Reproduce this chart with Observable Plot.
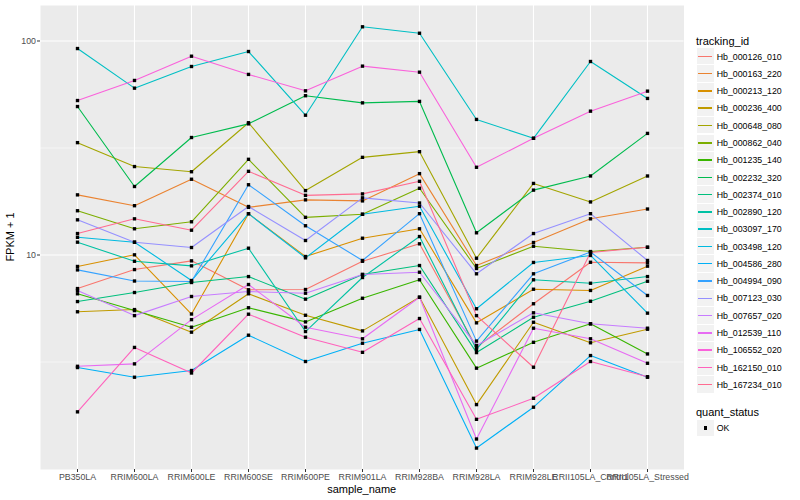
<!DOCTYPE html>
<html>
<head>
<meta charset="utf-8">
<script src="https://cdn.jsdelivr.net/npm/d3@7"></script>
<script src="https://cdn.jsdelivr.net/npm/@observablehq/plot@0.6"></script>
<style>
  body { margin: 0; background: #fff; font-family: "Liberation Sans", Arial, sans-serif; }
  #wrap { position: relative; width: 800px; height: 500px; overflow: hidden; }
  #wrap svg { position: absolute; left: 0; top: 0; }
  .lg { position: absolute; white-space: nowrap; color: #000; }
</style>
</head>
<body>
<div id="wrap"></div>
<script>
// ---- data ----
const samples = ["PB350LA", "RRIM600LA", "RRIM600LE", "RRIM600SE", "RRIM600PE", "RRIM901LA",
  "RRIM928BA", "RRIM928LA", "RRIM928LE", "RRII105LA_Control", "RRII105LA_Stressed"];

const ids = ["Hb_000126_010", "Hb_000163_220", "Hb_000213_120", "Hb_000236_400", "Hb_000648_080",
  "Hb_000862_040", "Hb_001235_140", "Hb_002232_320", "Hb_002374_010", "Hb_002890_120",
  "Hb_003097_170", "Hb_003498_120", "Hb_004586_280", "Hb_004994_090", "Hb_007123_030",
  "Hb_007657_020", "Hb_012539_110", "Hb_106552_020", "Hb_162150_010", "Hb_167234_010"];

const colors = ["#F8766D", "#EA8331", "#D89000", "#C09B00", "#A3A500", "#7CAE00", "#39B600", "#00BB4E",
  "#00BF7D", "#00C1A3", "#00BFC4", "#00BAE0", "#00B0F6", "#35A2FF", "#9590FF", "#C77CFF",
  "#E76BF3", "#FA62DB", "#FF62BC", "#FF6C91"];

// FPKM + 1 per sample, in the order of `samples`
const hb_000126_010 = [6.97, 8.55, 9.39, 6.88, 6.9, 9.35, 11.28, 3.7, 5.92, 9.25, 9.19];
const hb_000163_220 = [19.1, 17.0, 22.6, 16.7, 18.1, 17.9, 24.0, 8.93, 11.44, 14.76, 16.4];
const hb_000213_120 = [8.84, 10.02, 5.3, 15.6, 9.84, 11.98, 13.26, 4.82, 6.92, 6.83, 8.87];
const hb_000236_400 = [5.43, 5.56, 4.36, 6.59, 5.23, 4.42, 6.35, 2.0, 4.85, 3.89, 4.5];
const hb_000648_080 = [33.5, 25.9, 24.5, 41.5, 20.0, 28.6, 30.4, 9.66, 21.6, 17.7, 23.4];
const hb_000862_040 = [16.1, 13.26, 14.3, 28.0, 15.0, 15.5, 20.5, 8.65, 10.99, 10.38, 10.87];
const hb_001235_140 = [6.59, 5.5, 4.6, 5.67, 4.87, 6.28, 7.66, 2.96, 3.91, 4.77, 3.45];
const hb_002232_320 = [49.4, 20.9, 35.4, 41.0, 55.5, 51.4, 52.2, 12.7, 20.1, 23.4, 37.0];
const hb_002374_010 = [6.06, 6.68, 7.44, 7.93, 6.22, 8.11, 8.93, 3.5, 5.12, 6.08, 7.54];
const hb_002890_120 = [11.48, 9.35, 8.9, 10.76, 4.39, 7.85, 12.2, 3.62, 7.66, 7.38, 7.93];
const hb_003097_170 = [92.2, 60.2, 76.0, 89.3, 45.0, 116.5, 108.7, 43.0, 35.1, 80.2, 53.9];
const hb_003498_120 = [12.1, 11.48, 7.6, 15.6, 9.7, 15.5, 16.9, 5.61, 9.23, 9.95, 5.35];
const hb_004586_280 = [2.98, 2.685, 2.886, 4.22, 3.18, 3.87, 4.49, 1.253, 1.945, 3.39, 2.685];
const hb_004994_090 = [8.52, 7.56, 7.52, 21.3, 13.7, 9.43, 15.6, 3.96, 8.17, 10.33, 6.47];
const hb_007123_030 = [14.6, 11.48, 10.84, 16.85, 11.69, 18.5, 17.5, 8.17, 12.6, 15.6, 9.43];
const hb_007657_020 = [6.83, 5.21, 6.4, 6.75, 6.63, 8.11, 8.31, 3.78, 5.37, 4.77, 4.55];
const hb_012539_110 = [3.02, 3.1, 4.99, 7.28, 4.6, 4.06, 6.35, 1.381, 4.55, 4.06, 3.12];
const hb_106552_020 = [52.7, 65.4, 84.9, 69.8, 58.5, 76.3, 71.5, 25.7, 35.1, 47.0, 58.3];
const hb_162150_010 = [1.85, 3.7, 2.81, 5.29, 4.13, 3.51, 5.05, 1.707, 2.14, 3.18, 2.7];
const hb_167234_010 = [12.6, 14.76, 13.06, 24.6, 19.0, 19.3, 22.1, 5.21, 2.99, 10.27, 10.87];

const seriesValues = [hb_000126_010, hb_000163_220, hb_000213_120, hb_000236_400, hb_000648_080,
  hb_000862_040, hb_001235_140, hb_002232_320, hb_002374_010, hb_002890_120, hb_003097_170,
  hb_003498_120, hb_004586_280, hb_004994_090, hb_007123_030, hb_007657_020, hb_012539_110,
  hb_106552_020, hb_162150_010, hb_167234_010];

const quantStatus = ["OK"];
const majorBreaks = [10, 100];
const minorBreaks = [Math.sqrt(10), Math.sqrt(1000)];

// ---- build table ----
const data = ids.flatMap((id, i) => samples.map((s, j) => ({
  id, sample: s, value: seriesValues[i][j], status: quantStatus[0]
})));

const font = "'Liberation Sans', Arial, sans-serif";

const chart = Plot.plot({
  width: 800,
  height: 500,
  marginLeft: 40,
  marginRight: 116.5,
  marginTop: 5,
  marginBottom: 31,
  style: { fontFamily: font, fontSize: "8.8px", background: "#fff", color: "#000", overflow: "visible" },
  x: { type: "point", domain: samples, padding: 0.6, label: null },
  y: { type: "log", domain: [0.995, 146.5], label: null },
  color: { domain: ids, range: colors },
  marks: [
    Plot.frame({ fill: "#EBEBEB", stroke: "none" }),
    Plot.ruleY(minorBreaks, { y: d => d, stroke: "#fff", strokeWidth: 0.55 }),
    Plot.ruleY(majorBreaks, { y: d => d, stroke: "#fff", strokeWidth: 1.1 }),
    Plot.ruleX(samples, { x: d => d, stroke: "#fff", strokeWidth: 1.1 }),
    Plot.line(data, { x: "sample", y: "value", z: "id", stroke: "id", strokeWidth: 1.1 }),
    Plot.dot(data, { x: "sample", y: "value", symbol: "square", r: 1.9, fill: "#000", stroke: "none" }),
    Plot.axisY(majorBreaks, { tickSize: 3, tickPadding: 1.5, tickFormat: d => String(d),
      color: "#4D4D4D", stroke: "#333", label: null, fontSize: 8.8 }),
    Plot.axisX(samples, { tickSize: 3, tickPadding: 1, color: "#4D4D4D", stroke: "#333",
      label: null, fontSize: 8.8 })
  ]
});

const wrap = document.getElementById("wrap");
wrap.appendChild(chart);

// axis titles
const svg = d3.select(chart);
svg.append("text")
  .attr("x", 361.7).attr("y", 493)
  .attr("text-anchor", "middle")
  .attr("font-family", font).attr("font-size", 11).attr("fill", "#000")
  .text("sample_name");
svg.append("text")
  .attr("transform", "translate(14,237) rotate(-90)")
  .attr("text-anchor", "middle")
  .attr("font-family", font).attr("font-size", 11).attr("fill", "#000")
  .text("FPKM + 1");

// ---- legend (HTML) ----
function addDiv(style, text) {
  const d = document.createElement("div");
  d.className = "lg";
  Object.assign(d.style, style);
  if (text != null) d.textContent = text;
  wrap.appendChild(d);
  return d;
}
const keyStep = 17.28;
const firstKeyTop = 48.1;
addDiv({ left: "696px", top: "33.5px", fontSize: "11px", lineHeight: "14px" }, "tracking_id");
ids.forEach((id, i) => {
  const top = firstKeyTop + i * keyStep;
  const box = addDiv({ left: "696.5px", top: top + "px", width: "17px", height: (keyStep - 1) + "px",
    background: "#F2F2F2" });
  const ln = document.createElement("div");
  Object.assign(ln.style, { position: "absolute", left: "1.5px", width: "14px", top: "7.5px",
    height: "1.5px", background: colors[i] });
  box.appendChild(ln);
  addDiv({ left: "716.7px", top: (top + keyStep / 2 - 6.2) + "px", fontSize: "8.8px", lineHeight: "12px" }, id);
});
addDiv({ left: "696px", top: "405px", fontSize: "11px", lineHeight: "14px" }, "quant_status");
quantStatus.forEach((q, i) => {
  const top = 420 + i * keyStep;
  const box = addDiv({ left: "696.5px", top: top + "px", width: "17px", height: (keyStep - 1) + "px",
    background: "#F2F2F2" });
  const sq = document.createElement("div");
  Object.assign(sq.style, { position: "absolute", left: "7px", top: ((keyStep - 1) / 2 - 1.7) + "px",
    width: "3.4px", height: "3.4px", background: "#000" });
  box.appendChild(sq);
  addDiv({ left: "716.7px", top: (top + keyStep / 2 - 6.2) + "px", fontSize: "8.8px", lineHeight: "12px" }, q);
});
</script>
</body>
</html>
